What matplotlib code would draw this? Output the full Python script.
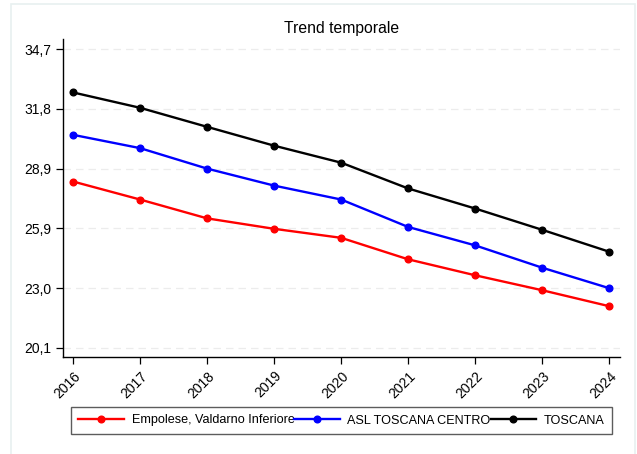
import matplotlib
matplotlib.use("Agg")
import matplotlib.pyplot as plt
from matplotlib.patches import Rectangle
from matplotlib.ticker import FuncFormatter

plt.rcParams['font.family'] = ['Liberation Sans', 'DejaVu Sans']
plt.rcParams['font.size'] = 9

# data
years = [2016, 2017, 2018, 2019, 2020, 2021, 2022, 2023, 2024]
empolese = [28.23, 27.35, 26.43, 25.92, 25.48, 24.43, 23.65, 22.92, 22.14]
asl_centro = [30.51, 29.86, 28.86, 28.03, 27.35, 26.01, 25.11, 24.02, 23.02]
toscana = [32.58, 31.83, 30.90, 29.98, 29.15, 27.89, 26.91, 25.87, 24.80]
series_names = ["Empolese, Valdarno Inferiore", "ASL TOSCANA CENTRO", "TOSCANA"]
series_colors = ["#ff0000", "#0000ff", "#000000"]
y_ticks = [20.1, 23.02, 25.94, 28.86, 31.78, 34.7]

fig = plt.figure(figsize=(6.37, 4.54), dpi=100)
fig.patch.set_facecolor("white")

# thin light frame around the whole figure
fig.patches.append(Rectangle((10.5 / 637, -0.01), (635 - 10.5) / 637, 1 - 3.5 / 454 + 0.01,
                             transform=fig.transFigure, fill=False,
                             ec="#e8f0f0", lw=1.2))

ax = fig.add_axes([63 / 637, 1 - 357 / 454, (620 - 63) / 637, (357 - 39) / 454])

for vals, name, col in zip([empolese, asl_centro, toscana], series_names, series_colors):
    ax.plot(years, vals, color=col, lw=1.7, marker="o", markersize=4.8, label=name)

ax.set_xlim(2016 - 0.15, 2024 + 0.16)
ax.set_ylim(19.66, 35.19)
ax.set_xticks(years)
ax.set_yticks(y_ticks)
ax.yaxis.set_major_formatter(FuncFormatter(lambda v, p: f"{v:.1f}".replace(".", ",")))
ax.grid(axis="y", color="#ececec", ls=(0, (6, 4)), lw=0.9)
ax.set_axisbelow(True)

for s in ["top", "right"]:
    ax.spines[s].set_visible(False)
ax.spines["left"].set_linewidth(1.0)
ax.spines["bottom"].set_linewidth(1.0)
ax.tick_params(axis="both", direction="out", length=5, width=0.9, labelsize=10, colors="black")
plt.setp(ax.get_xticklabels(), rotation=45, ha="right", rotation_mode="anchor")

ax.set_title("Trend temporale", fontsize=11.3, pad=4.5)

leg = fig.legend(loc="center", bbox_to_anchor=(341.5 / 637, 1 - 420.5 / 454), ncol=3,
                 handlelength=3.6, handletextpad=0.6, columnspacing=0.0,
                 borderpad=0.6, fontsize=9.1, fancybox=False, frameon=True)
leg.get_frame().set_edgecolor("#333333")
leg.get_frame().set_linewidth(1.0)

fig.savefig("out.png", dpi=100)
